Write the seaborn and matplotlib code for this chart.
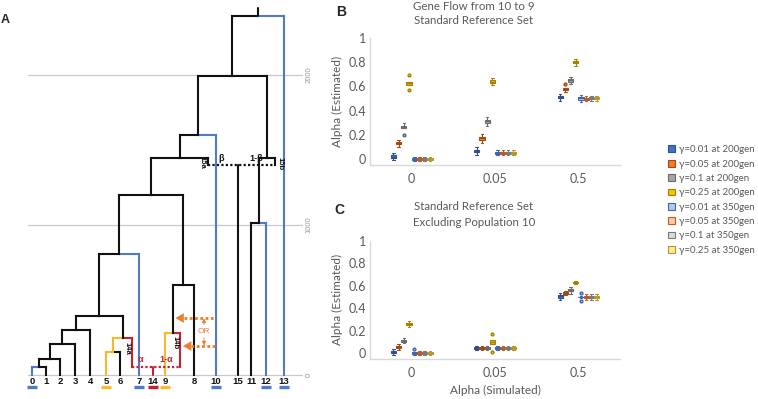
import numpy as np
import pandas as pd
import matplotlib
matplotlib.use("Agg")
import matplotlib.pyplot as plt
import matplotlib.colors as mcolors
import seaborn as sns
from matplotlib.patches import Patch

# ---------------- panel A data: tree topology and split times (generations) ----------------
leaves = ["0", "1", "2", "3", "4", "5", "6", "7", "14", "9", "8", "10", "15", "11", "12", "13"]
splits = [
    ("n01", "0", "1", 55),
    ("n012", "n01", "2", 107),
    ("n0123", "n012", "3", 207),
    ("n01234", "n0123", "4", 300),
    ("n56", "5", "6", 153),
    ("n56a", "n56", "14a", 247),
    ("nL", "n01234", "n56a", 393),
    ("nL7", "nL", "7", 807),
    ("n9b", "9", "14b", 280),
    ("n98", "n9b", "8", 600),
    ("nA", "nL7", "n98", 1200),
    ("nA15", "nA", "15a", 1447),
    ("nA10", "nA15", "10", 1600),
    ("n1112", "11", "12", 1010),
    ("nB", "n1112", "15b", 1447),
    ("nAB", "nA10", "nB", 1993),
    ("root", "nAB", "13", 2393),
]
root_top = 2447
admix_events = [("14", "14a", "14b", 55, "α", "1-α"), ("15", "15a", "15b", 1400, "β", "1-β")]
blue_branches = ["0", "7", "10", "12", "13"]
yellow_branches = ["5", "n56", "9"]
red_branches = ["14a", "14b", "14"]
bar_leaves = {"0": "blue", "7": "blue", "10": "blue", "12": "blue", "13": "blue",
              "5": "yellow", "9": "yellow", "14": "red"}
grid_gens = [0, 1000, 2000]
flow_heights = [380, 193]

# ---------------- panels B and C data ----------------
sim_levels = ["0", "0.05", "0.5"]
series_labels = ["γ=0.01 at 200gen", "γ=0.05 at 200gen", "γ=0.1 at 200gen", "γ=0.25 at 200gen",
                 "γ=0.01 at 350gen", "γ=0.05 at 350gen", "γ=0.1 at 350gen", "γ=0.25 at 350gen"]

# B: gene flow from 10 to 9, standard reference set (estimates per simulated alpha)
b_g001_200 = [[-0.01, 0.008, 0.016, 0.024, 0.032, 0.05], [0.035, 0.053, 0.061, 0.069, 0.077, 0.095], [0.48, 0.498, 0.506, 0.514, 0.522, 0.54]]
b_g005_200 = [[0.10, 0.118, 0.126, 0.134, 0.142, 0.16], [0.13, 0.155, 0.166, 0.176, 0.186, 0.21], [0.55, 0.565, 0.572, 0.578, 0.585, 0.62]]
b_g01_200 = [[0.20, 0.253, 0.261, 0.269, 0.277, 0.295], [0.27, 0.298, 0.306, 0.314, 0.322, 0.35], [0.62, 0.638, 0.646, 0.654, 0.662, 0.68]]
b_g025_200 = [[0.57, 0.61, 0.62, 0.63, 0.64, 0.69], [0.61, 0.628, 0.636, 0.644, 0.652, 0.67], [0.77, 0.788, 0.796, 0.804, 0.812, 0.83]]
b_g001_350 = [[-0.02, -0.008, -0.003, 0.003, 0.008, 0.02], [0.03, 0.042, 0.047, 0.053, 0.058, 0.07], [0.47, 0.488, 0.496, 0.504, 0.512, 0.53]]
b_g005_350 = [[-0.02, -0.008, -0.003, 0.003, 0.008, 0.02], [0.03, 0.042, 0.047, 0.053, 0.058, 0.07], [0.475, 0.488, 0.494, 0.5, 0.506, 0.52]]
b_g01_350 = [[-0.02, -0.008, -0.003, 0.003, 0.008, 0.02], [0.03, 0.042, 0.047, 0.053, 0.058, 0.07], [0.48, 0.49, 0.497, 0.503, 0.51, 0.52]]
b_g025_350 = [[-0.02, -0.008, -0.003, 0.003, 0.008, 0.02], [0.03, 0.042, 0.047, 0.053, 0.058, 0.07], [0.48, 0.49, 0.497, 0.503, 0.51, 0.52]]

# C: standard reference set excluding population 10
c_g001_200 = [[-0.02, -0.002, 0.006, 0.014, 0.022, 0.04], [0.025, 0.037, 0.042, 0.048, 0.053, 0.065], [0.475, 0.493, 0.501, 0.509, 0.517, 0.535]]
c_g005_200 = [[0.03, 0.045, 0.052, 0.058, 0.065, 0.08], [0.025, 0.037, 0.042, 0.048, 0.053, 0.065], [0.515, 0.527, 0.532, 0.538, 0.543, 0.555]]
c_g01_200 = [[0.085, 0.10, 0.107, 0.113, 0.12, 0.135], [0.025, 0.037, 0.042, 0.048, 0.053, 0.065], [0.53, 0.548, 0.556, 0.564, 0.572, 0.59]]
c_g025_200 = [[0.23, 0.248, 0.256, 0.264, 0.272, 0.29], [0.01, 0.08, 0.09, 0.11, 0.12, 0.17], [0.615, 0.624, 0.628, 0.632, 0.636, 0.645]]
c_g001_350 = [[-0.02, -0.006, -0.002, 0.004, 0.008, 0.04], [0.025, 0.037, 0.042, 0.048, 0.053, 0.065], [0.46, 0.495, 0.498, 0.502, 0.505, 0.54]]
c_g005_350 = [[-0.02, -0.008, -0.003, 0.003, 0.008, 0.02], [0.025, 0.037, 0.042, 0.048, 0.053, 0.065], [0.475, 0.488, 0.496, 0.504, 0.512, 0.525]]
c_g01_350 = [[-0.02, -0.008, -0.003, 0.003, 0.008, 0.02], [0.025, 0.037, 0.042, 0.048, 0.053, 0.065], [0.475, 0.488, 0.496, 0.504, 0.512, 0.525]]
c_g025_350 = [[-0.02, -0.008, -0.003, 0.003, 0.008, 0.02], [0.025, 0.037, 0.042, 0.048, 0.053, 0.065], [0.475, 0.488, 0.496, 0.504, 0.512, 0.525]]

b_sets = [b_g001_200, b_g005_200, b_g01_200, b_g025_200, b_g001_350, b_g005_350, b_g01_350, b_g025_350]
c_sets = [c_g001_200, c_g005_200, c_g01_200, c_g025_200, c_g001_350, c_g005_350, c_g01_350, c_g025_350]


def to_long(sets):
    rows = []
    for lab, per_sim in zip(series_labels, sets):
        for sim, vals in zip(sim_levels, per_sim):
            for v in vals:
                rows.append((lab, sim, v))
    return pd.DataFrame(rows, columns=["series", "sim", "est"])


df_b = to_long(b_sets)
df_c = to_long(c_sets)

# ---------------- style ----------------
sns.set_style("white")
plt.rcParams["font.family"] = ["Lato", "DejaVu Sans"]

W, H = 758, 399
fig = plt.figure(figsize=(W / 100, H / 100), dpi=100)


def fx(px):
    return px / W


def fy(py):
    return 1 - py / H


# ---------------- panel A ----------------
cmap = {"blue": "#4F7AC7", "yellow": "#F7BA2A", "red": "#C8202F", "black": "#111111"}
orange = "#F07C2E"
tree_font = ["Liberation Sans", "DejaVu Sans"]

# horizontal placement of leaves and admixture stubs
leaf_x = {"0": 32, "1": 46, "2": 60, "3": 75, "4": 90, "5": 106, "6": 120, "14a": 132,
          "7": 139, "14": 153, "9": 165, "14b": 180, "8": 194, "15a": 208, "10": 216,
          "15": 238, "11": 251, "12": 266, "15b": 275, "13": 284}


def gen_at(py):
    return (375 - py) / 0.15


axA = fig.add_axes([0, 0, 1, 1])
axA.set_xlim(0, W)
axA.set_ylim(gen_at(H), gen_at(0))
axA.axis("off")


def branch_color(name):
    if name in blue_branches:
        return cmap["blue"]
    if name in yellow_branches:
        return cmap["yellow"]
    if name in red_branches:
        return cmap["red"]
    return cmap["black"]


for g in grid_gens:
    axA.plot([28, 302], [g, g], color="#C9C9C9", lw=0.9, zorder=1)
    axA.text(309, g, str(g), rotation=90, ha="center", va="center", fontsize=5.5,
             color="#9A9A9A", family=tree_font)

xpos = dict(leaf_x)
ypos = {k: 0 for k in leaf_x}
for leaf, a, b, h, la, lb in admix_events:
    ypos[a] = h
    ypos[b] = h

lw_tree = 1.5
for name, left, right, h in splits:
    xpos[name] = (xpos[left] + xpos[right]) / 2
    ypos[name] = h
    for child in (left, right):
        col = branch_color(child)
        axA.plot([xpos[child], xpos[child]], [ypos[child], h], color=col, lw=lw_tree,
                 solid_capstyle="projecting", zorder=3)
        axA.plot([xpos[child], xpos[name]], [h, h], color=col, lw=lw_tree,
                 solid_capstyle="projecting", zorder=3)
axA.plot([xpos["root"], xpos["root"]], [ypos["root"], root_top], color=cmap["black"], lw=lw_tree, zorder=3)

for leaf, a, b, h, la, lb in admix_events:
    col = branch_color(leaf)
    axA.plot([xpos[a], xpos[b]], [h, h], color=col, lw=1.6, ls=(0, (1, 1)), zorder=3)
    axA.plot([xpos[leaf], xpos[leaf]], [0, h], color=col, lw=lw_tree, zorder=3)
    axA.text((xpos[a] + xpos[leaf]) / 2 - 2, h + 45, la, color=col, fontsize=6.5,
             ha="center", va="center", family=tree_font, fontweight="bold")
    axA.text((xpos[b] + xpos[leaf]) / 2, h + 45, lb, color=col, fontsize=6.5,
             ha="center", va="center", family=tree_font, fontweight="bold")

for lab, dx, h in [("14a", -5, 180), ("14b", -5, 213), ("15a", -6, 1420), ("15b", 5, 1410)]:
    axA.text(xpos[lab] + dx, h, lab, rotation=-90, fontsize=5.5, ha="center", va="center",
             family=tree_font, fontweight="bold", color="#111111")

for leaf in leaves:
    axA.text(xpos[leaf], gen_at(381), leaf, fontsize=6.8, ha="center", va="center",
             family=tree_font, fontweight="bold", color="#111111")
    if leaf in bar_leaves:
        axA.plot([xpos[leaf] - 5, xpos[leaf] + 5], [gen_at(386.5)] * 2,
                 color=cmap[bar_leaves[leaf]], lw=2.4, solid_capstyle="butt")

# possible gene-flow edges from 10 into the lineage of 9
targets = [xpos["n9b"] + 3, xpos["14b"] + 3]
for h, tip in zip(flow_heights, targets):
    axA.plot([tip + 8, xpos["10"] - 1], [h, h], color=orange, lw=2.0, ls=(0, (1, 0.9)), zorder=4)
    axA.annotate("", xy=(tip, h), xytext=(tip + 9, h),
                 arrowprops=dict(arrowstyle="-|>,head_length=0.6,head_width=0.35",
                                 color=orange, lw=0, shrinkA=0, shrinkB=0), zorder=4)
axA.text(204, 293, "OR", color=orange, fontsize=6, ha="center", va="center", family=tree_font)
axA.annotate("", xy=(204, 378), xytext=(204, 335),
             arrowprops=dict(arrowstyle="-|>,head_length=0.25,head_width=0.12", color=orange, lw=0.6,
                             shrinkA=0, shrinkB=0))
axA.annotate("", xy=(204, 196), xytext=(204, 250),
             arrowprops=dict(arrowstyle="-|>,head_length=0.25,head_width=0.12", color=orange, lw=0.6,
                             shrinkA=0, shrinkB=0))

fig.text(fx(5), fy(20), "A", fontsize=9, fontweight="bold", ha="center", va="center",
         family=tree_font)

# ---------------- panels B and C ----------------
fill_cols = ["#4472C4", "#ED7D31", "#A5A5A5", "#FFC000", "#B4C7E7", "#F8CBAD", "#DBDBDB", "#FFE699"]
edge_cols = ["#2F4F8F", "#A24A14", "#6B6B6B", "#A88000", "#3E66B0", "#C05A20", "#7A7A7A", "#B8962A"]
text_gray = "#595959"


def recolor(ax):
    fills = [mcolors.to_rgb(c) for c in fill_cols]
    for cont in ax.containers:
        boxes = getattr(cont, "boxes", None)
        if not boxes:
            continue
        fc = mcolors.to_rgb(boxes[0].get_facecolor())
        idx = int(np.argmin([sum((a - b) ** 2 for a, b in zip(fc, f)) for f in fills]))
        ec = edge_cols[idx]
        for art in list(cont.boxes):
            art.set_edgecolor(ec)
        for part in ("medians", "whiskers", "caps"):
            for ln in getattr(cont, part, []) or []:
                ln.set_color(ec)
        for ln in getattr(cont, "fliers", []) or []:
            ln.set_markeredgecolor(ec)
            ln.set_markerfacecolor(fill_cols[idx])


def draw_panel(ax, df):
    pal = dict(zip(series_labels, fill_cols))
    sns.boxplot(data=df, x="sim", y="est", hue="series",
                order=sim_levels, hue_order=series_labels, palette=pal, linecolor="#555555",
                width=0.5, gap=0.0, linewidth=0.8, fliersize=2.0, legend=False, ax=ax)
    recolor(ax)
    ax.set_xlim(-0.5, 2.5)
    ax.set_ylim(-0.05, 1.0)
    ax.set_yticks([0, 0.2, 0.4, 0.6, 0.8, 1.0])
    ax.set_yticklabels(["0", "0.2", "0.4", "0.6", "0.8", "1"])
    ax.tick_params(axis="both", length=0, labelsize=9, colors=text_gray)
    ax.tick_params(axis="y", pad=3)
    ax.tick_params(axis="x", pad=6)
    for s in ["top", "right"]:
        ax.spines[s].set_visible(False)
    for s in ["left", "bottom"]:
        ax.spines[s].set_color("#D9D9D9")
        ax.spines[s].set_linewidth(1.0)
    ax.set_ylabel("Alpha (Estimated)", fontsize=8.5, color=text_gray, labelpad=4)
    ax.set_xlabel("")


axB = fig.add_axes([fx(370), fy(165), fx(250), 127 / H])
draw_panel(axB, df_b)
axC = fig.add_axes([fx(370), fy(358.6), fx(250), 117.6 / H])
draw_panel(axC, df_c)
axC.set_xlabel("Alpha (Simulated)", fontsize=8.5, color=text_gray, labelpad=4)

for txt, py in [("Gene Flow from 10 to 9", 6), ("Standard Reference Set", 21),
                ("Standard Reference Set", 207), ("Excluding Population 10", 223)]:
    fig.text(fx(474), fy(py), txt, fontsize=8.3, color=text_gray, ha="center", va="center")

fig.text(fx(341), fy(12), "B", fontsize=10, fontweight="bold", ha="center", va="center", family=tree_font)
fig.text(fx(339), fy(210), "C", fontsize=10, fontweight="bold", ha="center", va="center", family=tree_font)

handles = [Patch(facecolor=fc, edgecolor=ec, linewidth=0.8) for fc, ec in zip(fill_cols, edge_cols)]
fig.legend(handles, series_labels, loc="center left", bbox_to_anchor=(fx(668), fy(200)),
           frameon=False, fontsize=7, handlelength=0.7, handleheight=0.7, handletextpad=0.4,
           labelspacing=0.55, borderpad=0, borderaxespad=0, labelcolor=text_gray)

fig.savefig("out.png", dpi=100)
plt.close("all")
